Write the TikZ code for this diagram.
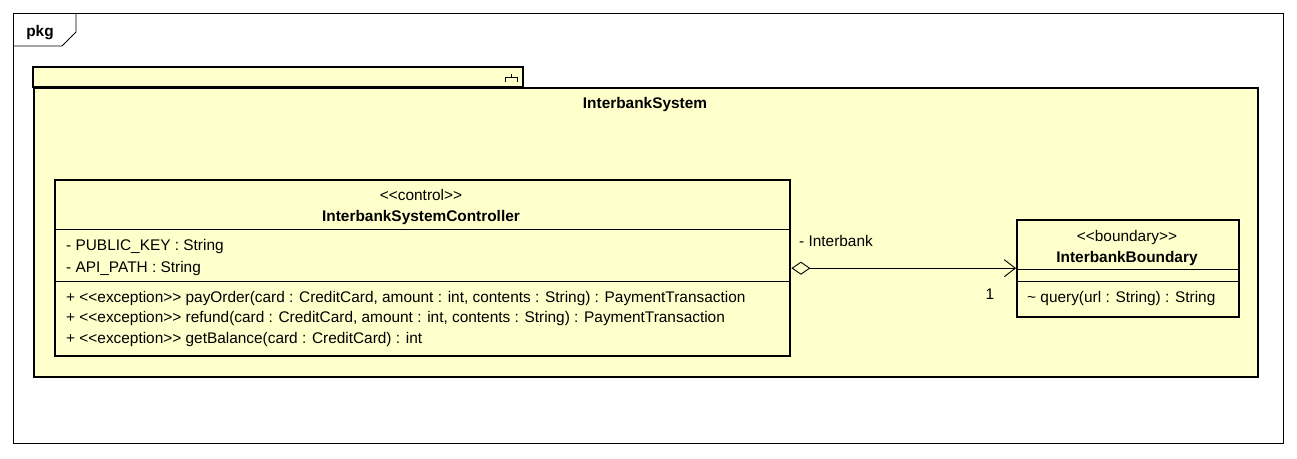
\documentclass[tikz,border=0pt]{standalone}
\usepackage{fontspec}
\setmainfont{Liberation Sans}
\usetikzlibrary{arrows.meta,positioning}
\definecolor{PkgYellow}{RGB}{255,255,204}
\newcommand{\stereo}[1]{<{}<#1>{}>}

\begin{document}
\begin{tikzpicture}[
        x=1pt, y=-1pt, font=\fontsize{15.4}{17}\selectfont,
        frame/.style={draw, line width=0.9pt},
        pkgbox/.style={draw, line width=2.4pt, fill=PkgYellow},
        cls/.style={draw, line width=2.4pt, fill=PkgYellow, anchor=north west,
                    inner sep=0pt},
        sep/.style={line width=0.9pt},
        txt/.style={anchor=base west, inner sep=0pt},
        ctxt/.style={anchor=base, inner sep=0pt},
        bold/.style={font=\fontsize{15.4}{17}\selectfont\bfseries},
        assoc/.style={line width=0.9pt,
                      {Diamond[open, length=19pt, width=13pt]}-{Straight Barb[length=11pt, width=17pt]}}
      ]
        \useasboundingbox[fill=white] (0,0) rectangle (1297,458);
        % outer frame
        \draw[frame] (13,13) rectangle (1283,443);
        \draw[frame] (13,46) -- (62,46) -- (76,32) -- (76,13);
        \node[ctxt, bold] (pkgname) at (40,36) {pkg};
        % package
        \draw[pkgbox] (33,67) rectangle (523,87);
        \node[pkgbox, anchor=north west, minimum width=1224, minimum height=289,
              inner sep=0pt] (sys) at (33,87) {};
        \draw[line width=1pt] (505.5,82) -- (505.5,77.5) -- (517,77.5) -- (517,82)
                              (511.5,77.5) -- (511.5,73.5);
        \node[ctxt, bold] (sysname) at (645,108.5) {InterbankSystem};
        % controller
        \node[cls, minimum width=735, minimum height=176] (ctrl) at (54,179) {};
        \node[ctxt] (ctrlst) at (421,200.5) {\stereo{control}};
        \node[ctxt, bold] (ctrlname) at (421,221.5) {InterbankSystemController};
        \draw[sep] (ctrl.west |- 0,229) -- (ctrl.east |- 0,229);
        \node[txt] (ctrla1) at (66,250.5) {- PUBLIC\_KEY : String};
        \node[txt] (ctrla2) at (66,272.5) {- API\_PATH : String};
        \draw[sep] (ctrl.west |- 0,281) -- (ctrl.east |- 0,281);
        \node[txt] (ctrlo1) at (66,302.5) {+ \stereo{exception} payOrder(card : CreditCard, amount : int, contents : String) : PaymentTransaction};
        \node[txt] (ctrlo2) at (66,322.5) {+ \stereo{exception} refund(card : CreditCard, amount : int, contents : String) : PaymentTransaction};
        \node[txt] (ctrlo3) at (66,343.5) {+ \stereo{exception} getBalance(card : CreditCard) : int};
        % boundary
        \node[cls, minimum width=222, minimum height=97] (bnd) at (1016,219) {};
        \node[ctxt] (bndst) at (1127,241.5) {\stereo{boundary}};
        \node[ctxt, bold] (bndname) at (1127,262.5) {InterbankBoundary};
        \draw[sep] (bnd.west |- 0,269) -- (bnd.east |- 0,269);
        \draw[sep] (bnd.west |- 0,281) -- (bnd.east |- 0,281);
        \node[txt] (bndo1) at (1027,302.5) {\textasciitilde{} query(url : String) : String};
        % association
        \draw[assoc] (ctrl.east) -- (ctrl.east -| bnd.west);
        \node[txt] (rolename) at (799,246.5) {- Interbank};
        \node[ctxt] (mult) at (990,299.5) {1};
      \end{tikzpicture}
\end{document}
